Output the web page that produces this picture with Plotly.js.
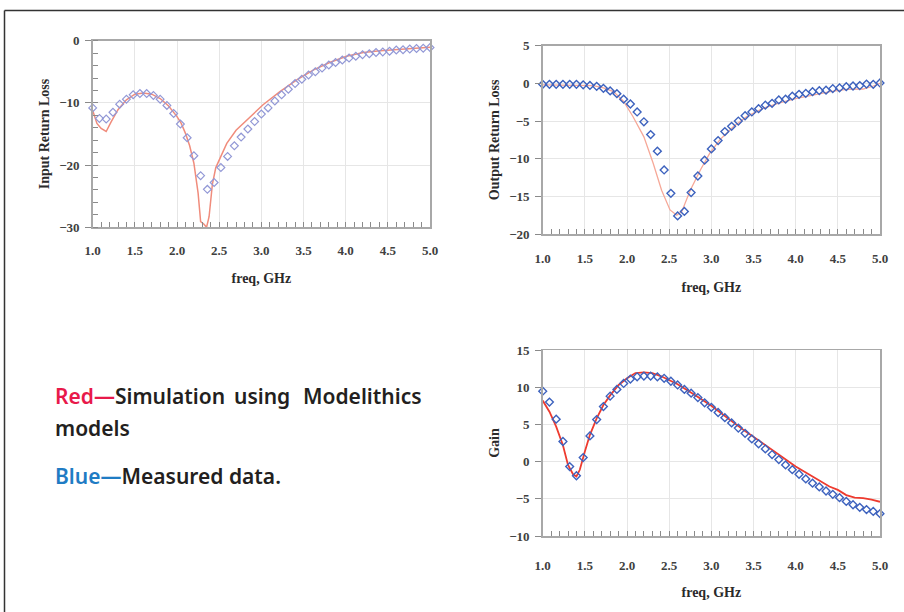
<!DOCTYPE html>
<html>
<head>
<meta charset="utf-8">
<script src="https://cdn.plot.ly/plotly-3.0.1.min.js"></script>
<style>
  html, body { margin: 0; padding: 0; background: #ffffff; }
  #chart { width: 904px; height: 612px; }
</style>
</head>
<body>
<div id="chart"></div>
<script>
// Measured frequency points (GHz)
var measFreq = [1.00, 1.08, 1.16, 1.24, 1.32, 1.40, 1.48, 1.56, 1.64, 1.72,
                1.80, 1.88, 1.96, 2.04, 2.12, 2.20, 2.28, 2.36, 2.44, 2.52,
                2.60, 2.68, 2.76, 2.84, 2.92, 3.00, 3.08, 3.16, 3.24, 3.32,
                3.40, 3.48, 3.56, 3.64, 3.72, 3.80, 3.88, 3.96, 4.04, 4.12,
                4.20, 4.28, 4.36, 4.44, 4.52, 4.60, 4.68, 4.76, 4.84, 4.92, 5.00];

// Input return loss – measured (blue)
var inMeas = [-10.8, -12.5, -12.6, -11.5, -10.2, -9.4, -8.7, -8.5, -8.5, -8.8,
              -9.4, -10.4, -11.7, -13.4, -15.6, -18.5, -21.7, -23.9, -22.8, -20.4,
              -18.6, -16.9, -15.5, -14.2, -13.0, -11.8, -10.8, -9.7, -8.7, -7.8,
              -6.9, -6.2, -5.5, -5.0, -4.4, -3.9, -3.5, -3.1, -2.8, -2.5,
              -2.25, -2.1, -1.9, -1.8, -1.7, -1.5, -1.45, -1.35, -1.25, -1.2, -1.1];

// Input return loss – simulation (red)
var inSimFreq = [1.00, 1.05, 1.10, 1.16, 1.22, 1.30, 1.40, 1.50, 1.60, 1.70,
                 1.80, 1.90, 2.00, 2.05, 2.10, 2.15, 2.20, 2.25, 2.28, 2.32,
                 2.35, 2.38, 2.42, 2.46, 2.52, 2.59, 2.70, 2.87, 3.02, 3.22,
                 3.42, 3.62, 3.81, 4.01, 4.21, 4.41, 4.60, 4.80, 5.00];
var inSim = [-11.2, -13.3, -14.1, -14.6, -13.0, -11.1, -9.5, -8.6, -8.4, -8.6,
             -9.3, -10.5, -12.2, -13.3, -14.9, -16.9, -19.7, -24.5, -29.1, -29.5,
             -30.0, -28.3, -23.0, -20.4, -18.6, -16.5, -14.4, -12.2, -10.3, -8.2,
             -6.3, -4.7, -3.5, -2.5, -1.9, -1.6, -1.4, -1.25, -1.07];

// Output return loss – measured (blue)
var outMeas = [-0.13, -0.13, -0.13, -0.13, -0.13, -0.13, -0.2, -0.27, -0.4, -0.66,
               -1.0, -1.37, -2.1, -2.74, -3.8, -5.1, -6.8, -9.0, -11.5, -14.6,
               -17.6, -17.0, -14.5, -12.3, -10.2, -8.7, -7.6, -6.4, -5.7, -5.0,
               -4.3, -3.8, -3.36, -2.9, -2.65, -2.2, -2.1, -1.7, -1.46, -1.33,
               -1.1, -0.97, -0.9, -0.7, -0.6, -0.44, -0.35, -0.3, -0.1, -0.13, 0.05];

// Output return loss – simulation (red)
var outSimFreq = [1.00, 1.20, 1.40, 1.60, 1.72, 1.84, 1.96, 2.07, 2.20, 2.31,
                  2.41, 2.51, 2.59, 2.65, 2.75, 2.87, 2.98, 3.10, 3.26, 3.42,
                  3.62, 3.81, 4.01, 4.21, 4.41, 4.60, 4.80, 4.92, 5.00];
var outSim = [-0.2, -0.2, -0.2, -0.3, -0.6, -1.1, -2.4, -4.4, -7.1, -10.6,
              -14.2, -16.8, -17.5, -17.0, -14.2, -11.5, -9.3, -7.5, -5.75, -4.4,
              -3.3, -2.6, -2.0, -1.55, -1.1, -0.8, -0.75, -0.35, 0.0];

// Gain – measured (blue)
var gainMeas = [9.46, 8.0, 5.7, 2.7, -0.67, -1.9, 0.54, 3.45, 5.65, 7.4,
                8.8, 9.7, 10.5, 11.1, 11.4, 11.5, 11.5, 11.4, 11.2, 10.8,
                10.3, 9.7, 9.2, 8.6, 7.9, 7.3, 6.6, 5.9, 5.2, 4.5,
                3.8, 3.05, 2.4, 1.7, 0.95, 0.27, -0.45, -1.08, -1.7, -2.33,
                -2.9, -3.4, -3.95, -4.4, -4.85, -5.35, -5.8, -6.15, -6.45, -6.7, -7.0];

// Gain – simulation (red)
var gainSimFreq = [1.00, 1.08, 1.16, 1.24, 1.30, 1.36, 1.40, 1.44, 1.50, 1.56,
                   1.64, 1.72, 1.80, 1.90, 2.00, 2.10, 2.20, 2.30, 2.40, 2.50,
                   2.60, 2.80, 3.00, 3.20, 3.40, 3.60, 3.80, 4.00, 4.20, 4.40,
                   4.50, 4.60, 4.70, 4.80, 4.90, 5.00];
var gainSim = [8.2, 6.7, 4.7, 2.2, -0.45, -1.7, -2.0, -1.1, 1.35, 3.6,
               5.8, 7.6, 8.9, 10.3, 11.2, 11.9, 12.0, 11.9, 11.5, 10.9,
               10.4, 9.0, 7.5, 5.8, 4.1, 2.55, 0.9, -0.67, -2.0, -3.35,
               -3.8, -4.5, -4.85, -4.9, -5.1, -5.4];

// Axis labels
var xTitle = 'freq, GHz';
var yTitles = ['Input Return Loss', 'Output Return Loss', 'Gain'];

var serif = 'Liberation Serif, Times New Roman, serif';
var tickFont = {family: serif, size: 13, color: '#404040', weight: 'bold'};
var titleFont = {family: serif, size: 14, color: '#2a2a2a', weight: 'bold'};

function xAxis(domain, anchor, labelOff, titleOff) {
  return {
    domain: domain, anchor: anchor, range: [1, 5], tick0: 1, dtick: 0.5,
    tickformat: '.1f', showgrid: true, gridcolor: '#e6e6e6', gridwidth: 1,
    zeroline: false, showline: true, linecolor: '#a8a8a8', linewidth: 1.5,
    mirror: true, ticks: 'inside', ticklen: 5, tickcolor: '#8a8a8a', tickwidth: 1,
    minor: {dtick: 0.1, tick0: 1, ticks: 'inside', ticklen: 5, tickcolor: '#8a8a8a', tickwidth: 1, showgrid: false},
    tickfont: tickFont, ticklabelstandoff: labelOff,
    title: {text: xTitle, font: titleFont, standoff: titleOff}
  };
}
function yAxis(domain, anchor, range, dtick, title, minorDtick) {
  var ax = {
    domain: domain, anchor: anchor, range: range, dtick: dtick,
    showgrid: true, gridcolor: '#e6e6e6', gridwidth: 1, zeroline: false,
    showline: true, linecolor: '#a8a8a8', linewidth: 1.5, mirror: true,
    ticks: 'outside', ticklen: 6, tickcolor: '#8a8a8a', tickwidth: 1,
    tickfont: tickFont, ticklabelstandoff: 3,
    title: {text: title, font: titleFont, standoff: 6}
  };
  if (minorDtick) {
    ax.minor = {dtick: minorDtick, ticks: 'inside', ticklen: 5, tickcolor: '#8a8a8a', tickwidth: 1, showgrid: false};
  }
  return ax;
}

var traces = [
  {x: inSimFreq, y: inSim, xaxis: 'x', yaxis: 'y', mode: 'lines',
   line: {color: '#f08c7c', width: 1.5}, cliponaxis: false, name: 'Simulation'},
  {x: measFreq, y: inMeas, xaxis: 'x', yaxis: 'y', mode: 'markers',
   marker: {symbol: 'diamond-open', size: 6, color: '#9298d6', line: {width: 1.2}}, cliponaxis: false, name: 'Measured'},
  {x: outSimFreq, y: outSim, xaxis: 'x2', yaxis: 'y2', mode: 'lines',
   line: {color: '#f6a898', width: 1.3}, cliponaxis: false, name: 'Simulation'},
  {x: measFreq, y: outMeas, xaxis: 'x2', yaxis: 'y2', mode: 'markers',
   marker: {symbol: 'diamond-open', size: 6, color: '#3d62be', line: {width: 1.4}}, cliponaxis: false, name: 'Measured'},
  {x: gainSimFreq, y: gainSim, xaxis: 'x3', yaxis: 'y3', mode: 'lines',
   line: {color: '#ee3b2f', width: 1.8}, cliponaxis: false, name: 'Simulation'},
  {x: measFreq, y: gainMeas, xaxis: 'x3', yaxis: 'y3', mode: 'markers',
   marker: {symbol: 'diamond-open', size: 6, color: '#3d62be', line: {width: 1.4}}, cliponaxis: false, name: 'Measured'}
];

var W = 904, H = 612;
function px(x) { return x / W; }
function py(y) { return 1 - y / H; }

var noteFont = {family: 'Noto Sans, DejaVu Sans, sans-serif', size: 21, color: '#231f20', weight: 600};

var layout = {
  width: W, height: H,
  margin: {l: 0, r: 0, t: 0, b: 0},
  paper_bgcolor: '#ffffff', plot_bgcolor: '#ffffff',
  showlegend: false,
  xaxis: xAxis([px(92.7), px(430)], 'y', 11, 16),
  yaxis: yAxis([py(227.3), py(40.7)], 'x', [-30, 0], 10, yTitles[0], 2),
  xaxis2: xAxis([px(542.7), px(880)], 'y2', 12, 17),
  yaxis2: yAxis([py(234), py(45.7)], 'x2', [-20, 5], 5, yTitles[1], null),
  xaxis3: xAxis([px(542.7), px(880)], 'y3', 17, 15),
  yaxis3: yAxis([py(536), py(350)], 'x3', [-10, 15], 5, yTitles[2], null),
  shapes: [
    {type: 'line', xref: 'paper', yref: 'paper', x0: px(4.5), x1: px(4.5), y0: 0, y1: py(10.5),
     line: {color: '#333333', width: 1.5}},
    {type: 'line', xref: 'paper', yref: 'paper', x0: px(4.5), x1: 1, y0: py(10.5), y1: py(10.5),
     line: {color: '#333333', width: 1.5}}
  ],
  annotations: [
    {xref: 'paper', yref: 'paper', x: px(53), y: py(396), xanchor: 'left', yanchor: 'middle', showarrow: false,
     text: '<span style="color:#e8194a">Red—</span>Simulation', font: noteFont},
    {xref: 'paper', yref: 'paper', x: px(262), y: py(396), xanchor: 'center', yanchor: 'middle', showarrow: false,
     text: 'using', font: noteFont},
    {xref: 'paper', yref: 'paper', x: px(424), y: py(396), xanchor: 'right', yanchor: 'middle', showarrow: false,
     text: 'Modelithics', font: noteFont},
    {xref: 'paper', yref: 'paper', x: px(53), y: py(428), xanchor: 'left', yanchor: 'middle', showarrow: false,
     text: 'models', font: noteFont},
    {xref: 'paper', yref: 'paper', x: px(53), y: py(476), xanchor: 'left', yanchor: 'middle', showarrow: false,
     text: '<span style="color:#1f7cc4">Blue—</span>Measured data.', font: noteFont}
  ]
};

Plotly.newPlot('chart', traces, layout, {staticPlot: true, displayModeBar: false});
</script>
</body>
</html>
